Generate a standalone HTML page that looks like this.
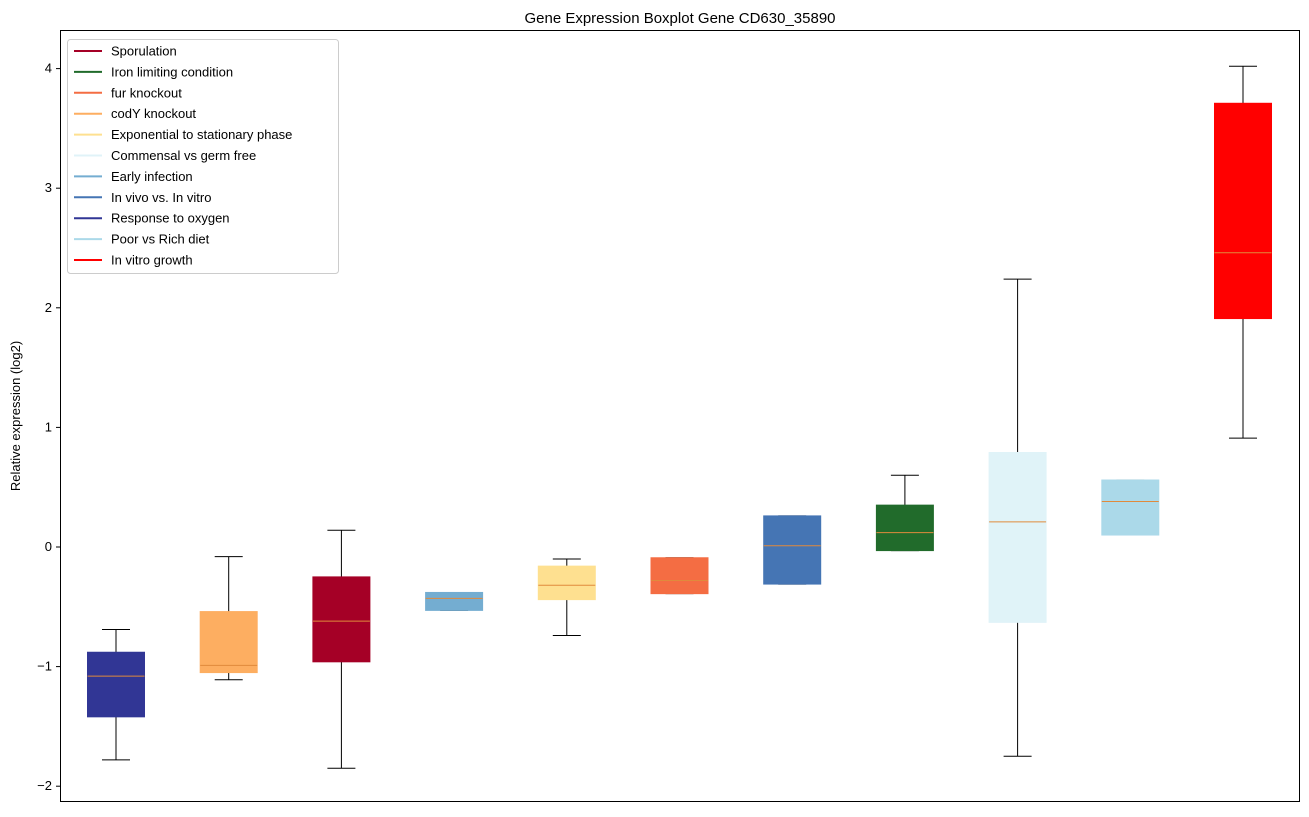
<!DOCTYPE html>
<html><head><meta charset="utf-8"><style>
body{margin:0;background:#fff;font-family:"Liberation Sans",sans-serif;}
svg text{font-family:"Liberation Sans",sans-serif;}
</style></head><body>
<svg id="chart" width="1309" height="812">
<text x="680" y="23" font-size="15" text-anchor="middle">Gene Expression Boxplot Gene CD630_35890</text>
<text transform="translate(20,416) rotate(-90)" font-size="13" text-anchor="middle">Relative expression (log2)</text>
<g id="ticks"></g><g id="boxes"></g>
<rect x="60.5" y="30.5" width="1239" height="771" fill="none" stroke="#000" stroke-width="1"/>
<g id="legend"></g>
</svg>
<script>
const categories=["Response to oxygen","codY knockout","Sporulation","Early infection","Exponential to stationary phase","fur knockout","In vivo vs. In vitro","Iron limiting condition","Commensal vs germ free","Poor vs Rich diet","In vitro growth"];
const colors=["#313695","#fdae61","#a50026","#74add1","#fee090","#f46d43","#4575b4","#216b2b","#e0f3f8","#abd9e9","#ff0000"];
const whiskerLow=[-1.78,-1.11,-1.85,-0.53,-0.74,-0.39,-0.31,-0.03,-1.75,0.10,0.91];
const q1=[-1.42,-1.05,-0.96,-0.53,-0.44,-0.39,-0.31,-0.03,-0.63,0.10,1.91];
const median=[-1.08,-0.99,-0.62,-0.43,-0.32,-0.28,0.01,0.12,0.21,0.38,2.46];
const q3=[-0.88,-0.54,-0.25,-0.38,-0.16,-0.09,0.26,0.35,0.79,0.56,3.71];
const whiskerHigh=[-0.69,-0.08,0.14,-0.38,-0.10,-0.09,0.26,0.60,2.24,0.56,4.02];
const yTicks=[-2,-1,0,1,2,3,4];
const legendLabels=["Sporulation","Iron limiting condition","fur knockout","codY knockout","Exponential to stationary phase","Commensal vs germ free","Early infection","In vivo vs. In vitro","Response to oxygen","Poor vs Rich diet","In vitro growth"];
const legendColors=["#a50026","#216b2b","#f46d43","#fdae61","#fee090","#e0f3f8","#74add1","#4575b4","#313695","#abd9e9","#ff0000"];
const NS="http://www.w3.org/2000/svg";
const y=v=>547-v*119.6;
const x=i=>116+i*112.7;
function mk(tag,attrs,parent){const e=document.createElementNS(NS,tag);for(const k in attrs)e.setAttribute(k,attrs[k]);parent.appendChild(e);return e;}
const tg=document.getElementById('ticks');
yTicks.forEach(t=>{
 const l=mk('line',{x1:56,x2:60,y1:y(t),y2:y(t),stroke:'#000'},tg);
 
 
 const tx=mk('text',{x:52,y:y(t)+4,'font-size':13,'text-anchor':'end'},tg);
 tx.textContent=(t<0?'\u2212':'')+Math.abs(t);
 
 
});
const bg=document.getElementById('boxes');
categories.forEach((c,i)=>{
 const g=mk('g',{},bg);
 
 
 const cx=x(i),w=57;
 mk('line',{x1:cx,x2:cx,y1:y(q3[i]),y2:y(whiskerHigh[i]),stroke:'#000'},g);
 mk('line',{x1:cx,x2:cx,y1:y(q1[i]),y2:y(whiskerLow[i]),stroke:'#000'},g);
 mk('line',{x1:cx-14,x2:cx+14,y1:y(whiskerHigh[i]),y2:y(whiskerHigh[i]),stroke:'#000'},g);
 mk('line',{x1:cx-14,x2:cx+14,y1:y(whiskerLow[i]),y2:y(whiskerLow[i]),stroke:'#000'},g);
 mk('rect',{x:cx-w/2,y:y(q3[i]),width:w,height:Math.max(1,y(q1[i])-y(q3[i])),fill:colors[i],stroke:colors[i]},g);
 mk('line',{x1:cx-w/2,x2:cx+w/2,y1:y(median[i]),y2:y(median[i]),stroke:'#e08a3c','stroke-width':1},g);
});
const lg=document.getElementById('legend');
const lb=mk('rect',{x:67.5,y:39.5,width:271,height:234,rx:3,fill:'#fff',stroke:'#ccc'},lg);


legendLabels.forEach((l,i)=>{
 const yy=51+i*20.9;
 const g=mk('g',{},lg);
 
 
 mk('line',{x1:74,x2:102,y1:yy,y2:yy,stroke:legendColors[i],'stroke-width':2},g);
 const t=mk('text',{x:111,y:yy+4.5,'font-size':13},g);
 t.textContent=l;
});
</script>
</body></html>
